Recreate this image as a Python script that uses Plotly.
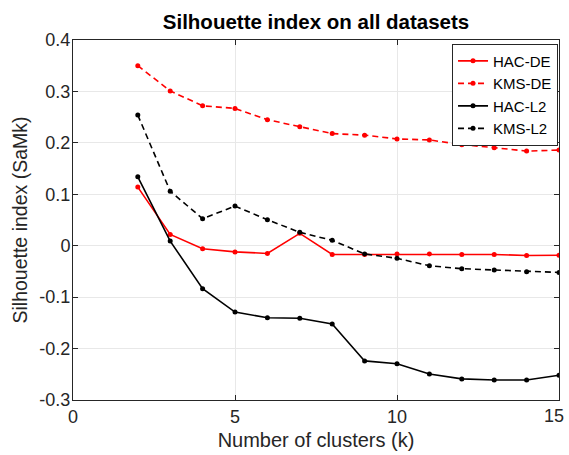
import plotly.graph_objects as go

k = list(range(2, 16))
hac_de = [0.114, 0.022, -0.006, -0.012, -0.015, 0.024, -0.017, -0.017, -0.016, -0.016, -0.017, -0.017, -0.019, -0.0185]
kms_de = [0.350, 0.301, 0.272, 0.267, 0.245, 0.2315, 0.218, 0.215, 0.2076, 0.2057, 0.1965, 0.1907, 0.184, 0.186]
hac_l2 = [0.134, 0.009, -0.0836, -0.129, -0.140, -0.141, -0.152, -0.224, -0.2295, -0.2496, -0.259, -0.261, -0.261, -0.252]
kms_l2 = [0.254, 0.106, 0.0526, 0.077, 0.0506, 0.026, 0.0105, -0.016, -0.0245, -0.039, -0.0447, -0.047, -0.0505, -0.052]

x_ticks = [0, 5, 10, 15]
x_tick_labels = ["0", "5", "10", "15"]
y_ticks = [-0.3, -0.2, -0.1, 0, 0.1, 0.2, 0.3, 0.4]
y_tick_labels = ["-0.3", "-0.2", "-0.1", "0", "0.1", "0.2", "0.3", "0.4"]

series = [
    ("HAC-DE", hac_de, "#ff0000", "solid"),
    ("KMS-DE", kms_de, "#ff0000", "dash"),
    ("HAC-L2", hac_l2, "#000000", "solid"),
    ("KMS-L2", kms_l2, "#000000", "dash"),
]

FONT = "Liberation Sans, Arial, sans-serif"
TICK_FONT = dict(family=FONT, size=18, color="#262626")

fig = go.Figure()
for name, vals, color, dash in series:
    fig.add_trace(go.Scatter(
        x=k, y=vals, name=name, mode="lines+markers",
        line=dict(color=color, width=1.6, dash="solid" if dash == "solid" else "6px,4px"),
        marker=dict(color=color, size=5, symbol="circle"),
    ))

axis_common = dict(
    showline=True, linecolor="#262626", linewidth=1, mirror="ticks",
    ticks="inside", ticklen=5, tickcolor="#262626",
    showgrid=True, gridcolor="#e8e8e8", gridwidth=1,
    zeroline=False, automargin=False,
    tickfont=TICK_FONT,
)

# the last x tick label is nudged left (as in the reference) so it stays inside the figure
x_text = x_tick_labels[:-1] + [""]
fig.add_annotation(x=x_ticks[-1], xref="x", y=0, yref="paper", yanchor="top",
                   text=x_tick_labels[-1], showarrow=False, font=TICK_FONT,
                   xshift=-5, yshift=-4)

fig.update_layout(
    width=569, height=455,
    margin=dict(l=73, r=10, t=40, b=55),
    paper_bgcolor="white", plot_bgcolor="white",
    title=dict(text="<b>Silhouette index on all datasets</b>", x=0.5, xref="paper", xanchor="center",
               y=0.951, yanchor="middle",
               font=dict(family=FONT, size=20.5, color="black")),
    xaxis=dict(range=[0, 15], tickvals=x_ticks, ticktext=x_text,
               title=dict(text="Number of clusters (k)", standoff=7,
                          font=dict(family=FONT, size=20, color="#262626")),
               **axis_common),
    yaxis=dict(range=[-0.3, 0.4], tickvals=y_ticks, ticktext=y_tick_labels,
               ticklabelstandoff=-2,
               title=dict(text="Silhouette index (SaMk)", standoff=6,
                          font=dict(family=FONT, size=19.5, color="#262626")),
               **axis_common),
    legend=dict(x=0.998, y=0.99, xanchor="right", yanchor="top",
                bgcolor="white", bordercolor="#262626", borderwidth=1,
                font=dict(family=FONT, size=15, color="black"),
                tracegroupgap=0, itemwidth=30),
    showlegend=True,
)

fig.write_html("out.html", config={"displayModeBar": False},
               post_script="document.body.style.margin='0';")
